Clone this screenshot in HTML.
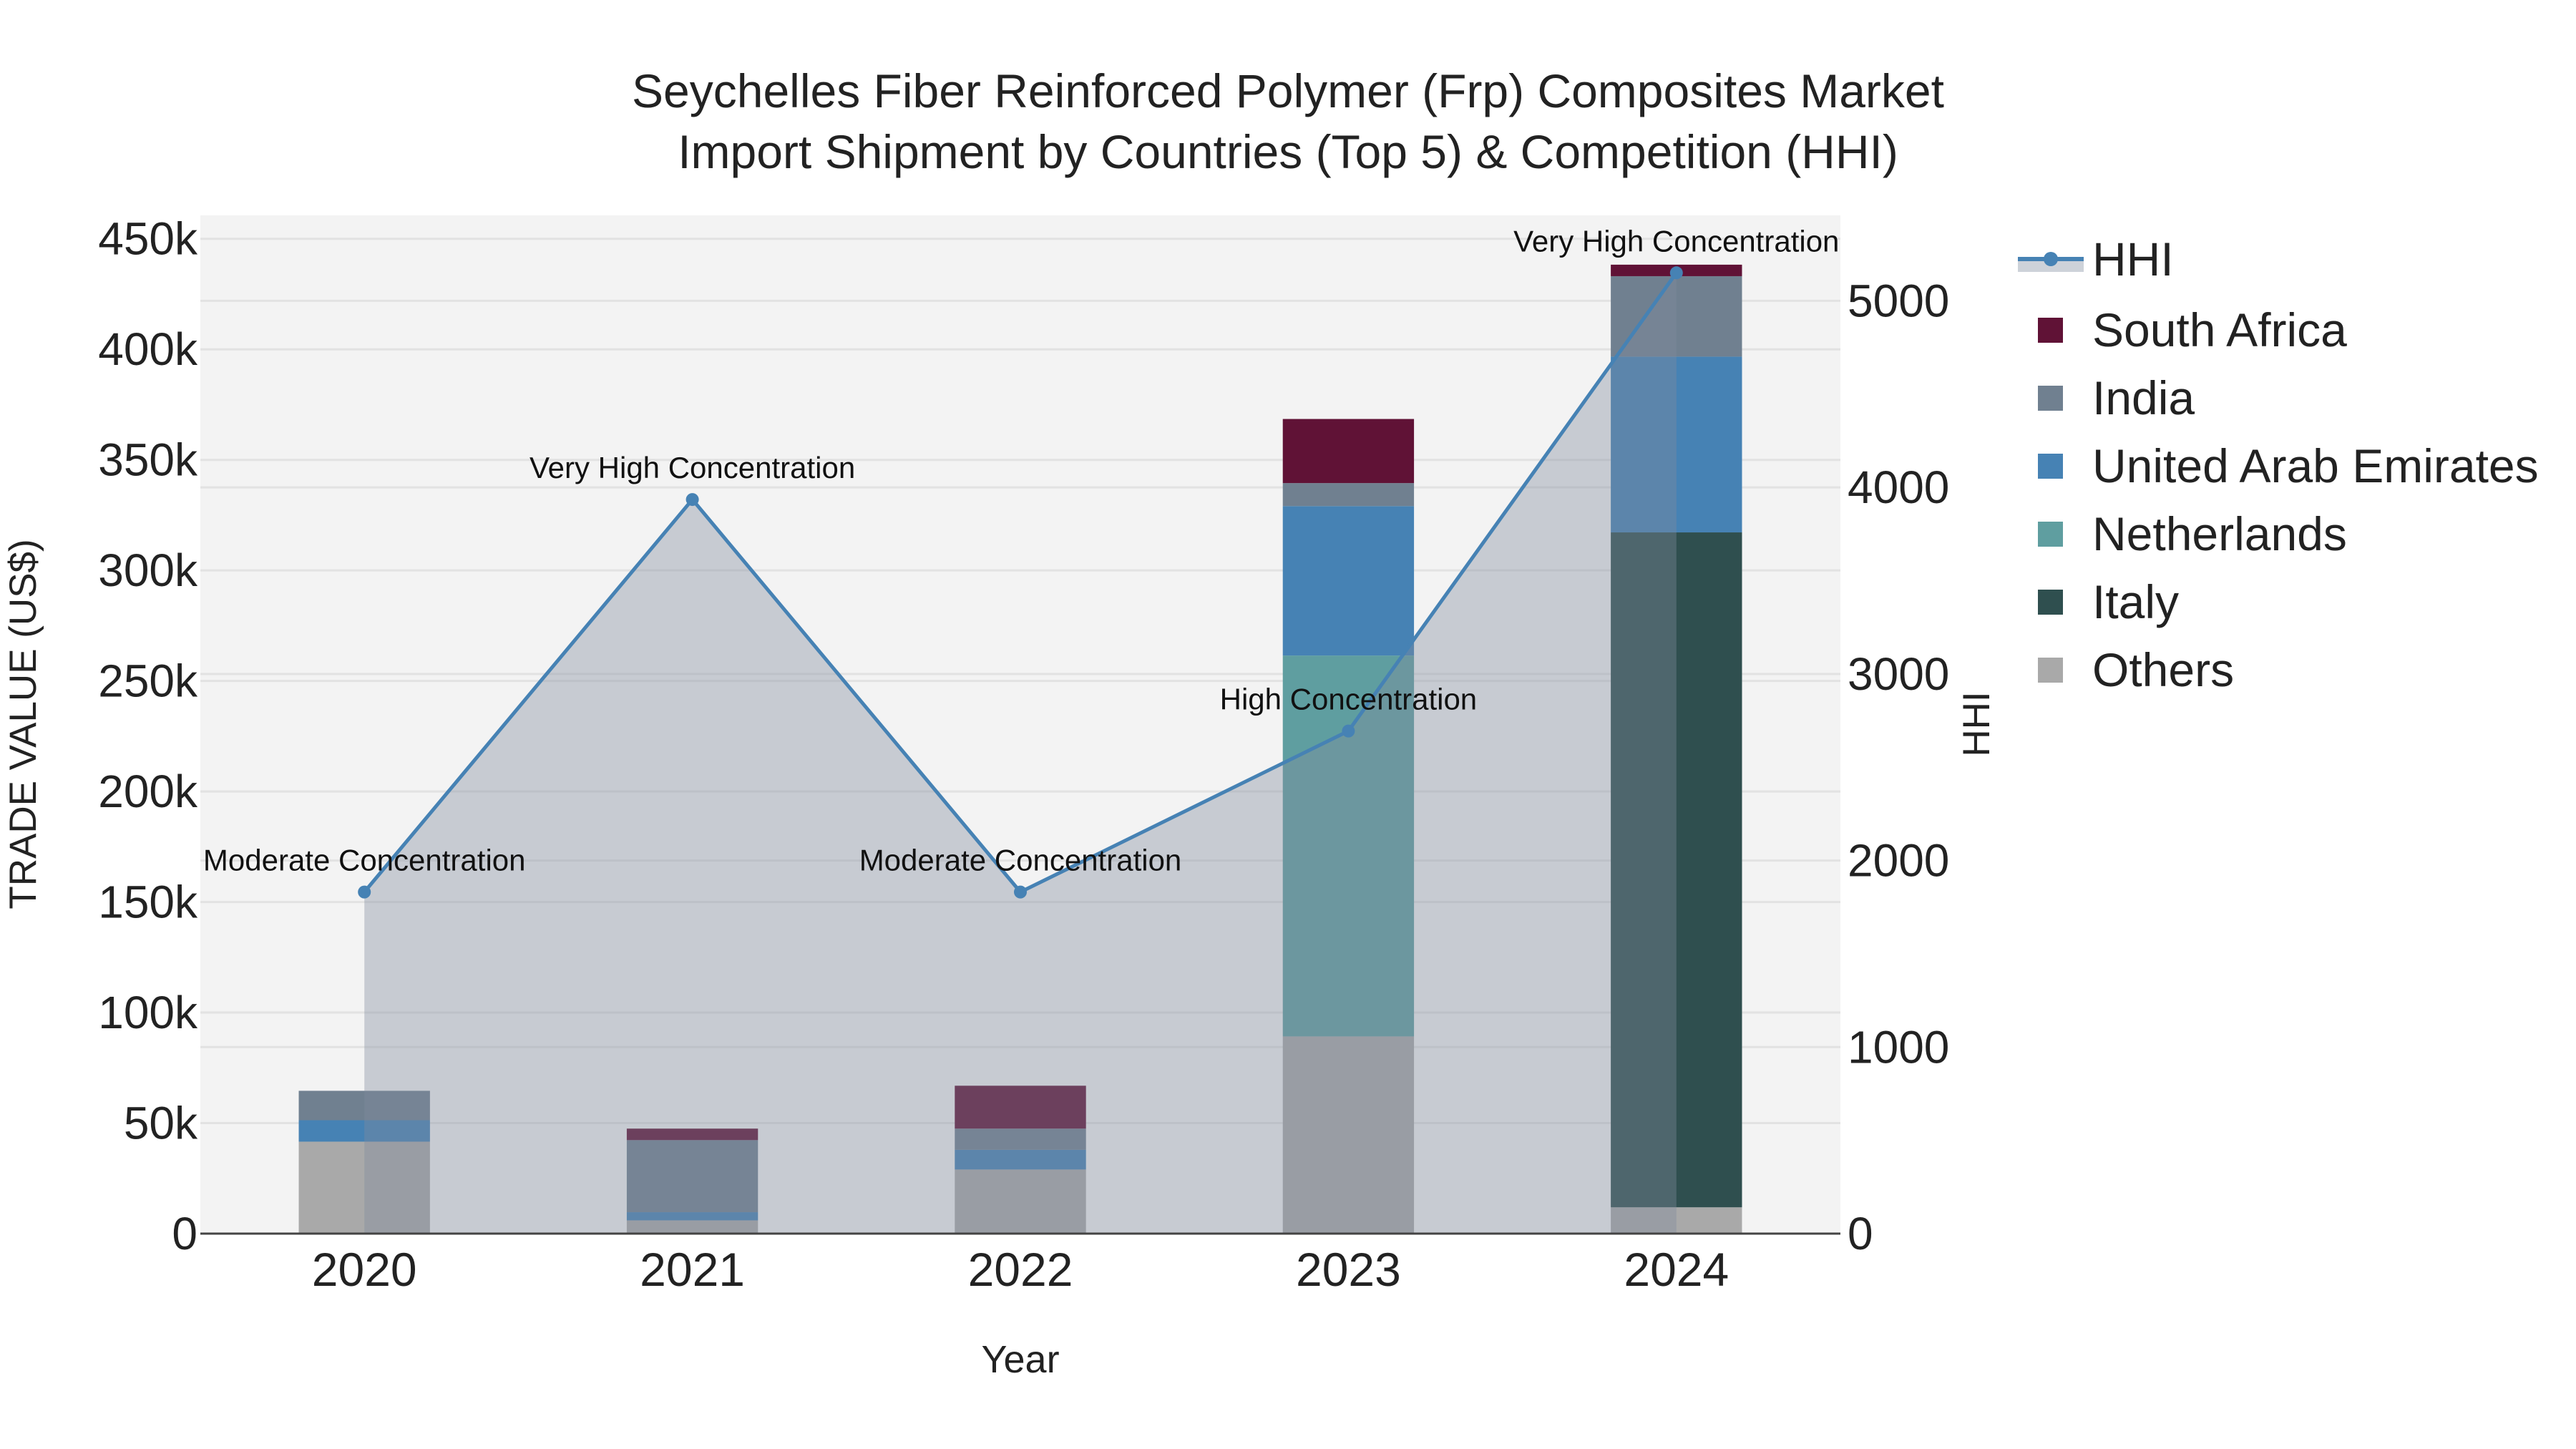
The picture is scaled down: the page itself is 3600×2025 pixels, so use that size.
<!DOCTYPE html>
<html><head><meta charset="utf-8">
<style>
html,body{margin:0;padding:0;background:#fff;}
svg{display:block;font-family:"Liberation Sans",sans-serif;}
</style></head>
<body>
<svg id="chart" width="3600" height="2025" viewBox="0 0 3600 2025" xmlns="http://www.w3.org/2000/svg">
<rect x="0" y="0" width="3600" height="2025" fill="#fff"/>
<rect x="280" y="301" width="2292" height="1423" fill="#f3f3f3"/>
<g id="grid"></g>
<g id="bars"></g>
<g id="hhi"></g>
<line x1="280" y1="1724" x2="2572" y2="1724" stroke="#444" stroke-width="3"/>
<g id="ticks"></g>
<text x="1800" y="150" text-anchor="middle" font-size="66" fill="#222">Seychelles Fiber Reinforced Polymer (Frp) Composites Market</text>
<text x="1800" y="235" text-anchor="middle" font-size="66" fill="#222">Import Shipment by Countries (Top 5) &amp; Competition (HHI)</text>
<text x="1426" y="1918" text-anchor="middle" font-size="54" fill="#222">Year</text>
<text transform="translate(50,1012) rotate(-90)" text-anchor="middle" font-size="53" fill="#222">TRADE VALUE (US$)</text>
<text transform="translate(2780,1012) rotate(-90)" text-anchor="middle" font-size="53" fill="#222">HHI</text>
<g id="legend"></g>
</svg>
<script>
const years = ["2020","2021","2022","2023","2024"];
const others = [41600, 6000, 29000, 89200, 11900];
const italy = [0, 0, 0, 0, 305300];
const netherlands = [0, 0, 0, 172300, 0];
const uae = [9700, 3700, 8900, 67600, 79500];
const india = [13300, 32600, 9600, 10400, 36400];
const southAfrica = [0, 5200, 19400, 29000, 5200];
const hhi = [1831, 3935, 1831, 2694, 5150];
const hhiLabels = ["Moderate Concentration","Very High Concentration","Moderate Concentration","High Concentration","Very High Concentration"];
const leftTicks = [0,50000,100000,150000,200000,250000,300000,350000,400000,450000];
const leftTickLabels = ["0","50k","100k","150k","200k","250k","300k","350k","400k","450k"];
const rightTicks = [0,1000,2000,3000,4000,5000];

const NS="http://www.w3.org/2000/svg";
const X0=280,X1=2572,Y0=1724,Y1=301;
const yL=v=>Y0-(v/460600)*(Y0-Y1);
const yR=v=>Y0-(v/5458)*(Y0-Y1);
const xC=i=>X0+(i+0.5)*(X1-X0)/years.length;
const bw=0.4*(X1-X0)/years.length;
function mk(tag,attrs,parent){const e=document.createElementNS(NS,tag);for(const k in attrs)e.setAttribute(k,attrs[k]);parent.appendChild(e);return e;}
const grid=document.getElementById('grid'),ticks=document.getElementById('ticks');
leftTicks.forEach((t,i)=>{
  if(t>0){const l=mk('line',{x1:X0,x2:X1,y1:yL(t),y2:yL(t),stroke:'#e2e2e2','stroke-width':3},grid);
  
  }
  const tx=mk('text',{x:276,y:yL(t)+22,'text-anchor':'end','font-size':64,fill:'#222'},ticks);
  tx.textContent=leftTickLabels[i];
  
  
});
rightTicks.forEach(t=>{
  if(t>0){const l=mk('line',{x1:X0,x2:X1,y1:yR(t),y2:yR(t),stroke:'#e2e2e2','stroke-width':3},grid);
  
  }
  const tx=mk('text',{x:2582,y:yR(t)+22,'text-anchor':'start','font-size':64,fill:'#222'},ticks);
  tx.textContent=String(t);
  
  
});
years.forEach((y,i)=>{
  const tx=mk('text',{x:xC(i),y:1797,'text-anchor':'middle','font-size':66,fill:'#222'},ticks);
  tx.textContent=y;
  
  
});
const series=[["Others",others,"#a9a9a9"],["Italy",italy,"#2f4f4f"],["Netherlands",netherlands,"#5f9ea0"],["United Arab Emirates",uae,"#4682b4"],["India",india,"#708090"],["South Africa",southAfrica,"#601236"]];
const bars=document.getElementById('bars');
years.forEach((y,i)=>{
  let base=0;
  series.forEach(s=>{
    const v=s[1][i]; if(v<=0) return;
    const r=mk('rect',{x:xC(i)-bw/2,y:yL(base+v),width:bw,height:yL(base)-yL(base+v),fill:s[2]},bars);
    
    
    base+=v;
  });
});
const g=document.getElementById('hhi');
let pts=hhi.map((v,i)=>xC(i)+','+yR(v)).join(' ');
const area=mk('polygon',{points:xC(0)+','+Y0+' '+pts+' '+xC(hhi.length-1)+','+Y0,fill:'rgb(129,140,158)','fill-opacity':0.38},g);


const line=mk('polyline',{points:pts,fill:'none',stroke:'#4682b4','stroke-width':5},g);


hhi.forEach((v,i)=>{
  const c=mk('circle',{cx:xC(i),cy:yR(v),r:9,fill:'#4682b4'},g);
  
  
  const t=mk('text',{x:xC(i),y:yR(v)-30,'text-anchor':'middle','font-size':42,fill:'#111'},g);
  t.textContent=hhiLabels[i];
  
  
});
const lg=document.getElementById('legend');
const hl=mk('g',{},lg);


mk('rect',{x:2820,y:363,width:92,height:17,fill:'#cdd2d9'},hl);
mk('line',{x1:2820,x2:2912,y1:362,y2:362,stroke:'#4682b4','stroke-width':6},hl);
mk('circle',{cx:2866,cy:362,r:10,fill:'#4682b4'},hl);
const ht=mk('text',{x:2924,y:385,'font-size':66,fill:'#222'},hl);ht.textContent='HHI';
const legItems=[["South Africa","#601236"],["India","#708090"],["United Arab Emirates","#4682b4"],["Netherlands","#5f9ea0"],["Italy","#2f4f4f"],["Others","#a9a9a9"]];
legItems.forEach((it,k)=>{
  const cy=461+k*95;
  const e=mk('g',{},lg);
  
  
  mk('rect',{x:2848,y:cy-17,width:35,height:35,fill:it[1]},e);
  const t=mk('text',{x:2924,y:cy+23,'font-size':66,fill:'#222'},e);t.textContent=it[0];
});
</script>
</body></html>
